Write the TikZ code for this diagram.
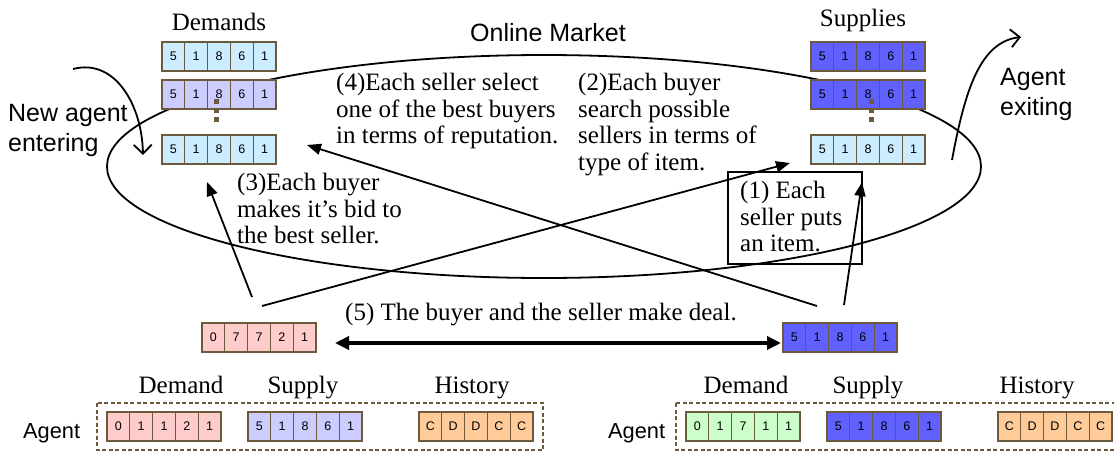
\documentclass[tikz,border=0pt]{standalone}
\usepackage{fontspec}
\setmainfont{Liberation Serif}
\newfontfamily\sansf{Liberation Sans}
\usetikzlibrary{arrows.meta}
\definecolor{cellbrd}{HTML}{6B5A3C}
\definecolor{lblue}{HTML}{CCECFF}
\definecolor{lpurp}{HTML}{CCCCFF}
\definecolor{dblue}{HTML}{6060FF}
\definecolor{lpink}{HTML}{FFCCCC}
\definecolor{lgreen}{HTML}{CCFFCC}
\definecolor{lorange}{HTML}{FFCC99}
\newcommand\cellrow[5]{%
  \foreach \v [count=\i] in {#5} {
    \node[cell, fill=#4] (#1-\i) at ({#2+(\i-0.5)*22.8}, {#3+14.5}) {\v};
  }%
}
\tikzset{
  cell/.style={draw=cellbrd, line width=1.2pt, minimum width=22.8pt, minimum height=29pt, inner sep=0pt, font=\sansf\fontsize{12.5}{14}\selectfont},
  serif/.style={inner sep=0pt, align=left, font=\fontsize{25}{26.5}\selectfont},
  sanslab/.style={inner sep=0pt, align=left, font=\sansf\fontsize{25}{30}\selectfont},
  sansagent/.style={inner sep=0pt, font=\sansf\fontsize{21.8}{24}\selectfont},
  conn/.style={line width=1.8pt, -{Triangle[length=14pt,width=11pt]}},
  openarr/.style={line width=1.8pt, -{Straight Barb[length=9pt,width=18pt,line width=1.8pt]}},
  dealarr/.style={line width=3.5pt, {Triangle[length=14pt,width=13pt]}-{Triangle[length=14pt,width=13pt]}},
  agentframe/.style={draw=cellbrd, line width=1.5pt, dash pattern=on 4pt off 2.5pt},
}
\begin{document}
\begin{tikzpicture}[x=1pt,y=-1pt]
\useasboundingbox (0,0) rectangle (1114,453);
% market ellipse
\draw[line width=1.8pt] (544,166.5) ellipse [x radius=437pt, y radius=111.5pt];
\node[sanslab, anchor=base] (market) at (548,41) {Online Market};
% demands / supplies
\node[serif, anchor=base] (demlab) at (219,30) {Demands};
\node[serif, anchor=base] (suplab) at (863,26) {Supplies};
\cellrow{dA}{162}{42}{lblue}{5,1,8,6,1}
\cellrow{dB}{162}{80}{lpurp}{5,1,8,6,1}
\cellrow{dC}{162}{135}{lblue}{5,1,8,6,1}
\cellrow{sA}{811}{42}{dblue}{5,1,8,6,1}
\cellrow{sB}{811}{80}{dblue}{5,1,8,6,1}
\cellrow{sC}{811}{135}{lblue}{5,1,8,6,1}
\draw[cellbrd, line width=5pt, dash pattern=on 4.5pt off 4.5pt] (216,99) -- (216,124);
\draw[cellbrd, line width=5pt, dash pattern=on 4.5pt off 4.5pt] (871,99) -- (871,124);
% texts
\node[serif, anchor=north west] (t4) at (336,73) {(4)Each seller select\\one of the best buyers\\in terms of reputation.};
\node[serif, anchor=north west] (t2) at (578,73) {(2)Each buyer\\search possible\\sellers in terms of\\type of item.};
\node[serif, anchor=north west] (t3) at (237,173) {(3)Each buyer\\makes it’s bid to\\the best seller.};
\draw[line width=1.2pt] (728,172) rectangle (862,264);
\node[serif, anchor=north west] (t1) at (740,181) {(1) Each\\seller puts\\an item.};
\node[serif, anchor=base west] (t5) at (345,320.5) {(5) The buyer and the seller make deal.};
\node[sanslab, anchor=north west] (enter) at (8,104) {New agent\\entering};
\node[sanslab, anchor=north west] (exit) at (1000,68) {Agent\\exiting};
% buyer / seller
\cellrow{buy}{202}{323}{lpink}{0,7,7,2,1}
\cellrow{sel}{783}{323}{dblue}{5,1,8,6,1}
% agents
\draw[agentframe] (97,403) rectangle (543,450);
\draw[agentframe] (676,403) rectangle (1125,450);
\node[sansagent, anchor=base west] (agL) at (23,438) {Agent};
\node[sansagent, anchor=base west] (agR) at (608,438) {Agent};
\node[serif, anchor=base] at (181,393) {Demand};
\node[serif, anchor=base] at (303,393) {Supply};
\node[serif, anchor=base] at (472,393) {History};
\node[serif, anchor=base] at (746,393) {Demand};
\node[serif, anchor=base] at (868,393) {Supply};
\node[serif, anchor=base] at (1037,393) {History};
\cellrow{aLd}{107}{412}{lpink}{0,1,1,2,1}
\cellrow{aLs}{248}{412}{lpurp}{5,1,8,6,1}
\cellrow{aLh}{419}{412}{lorange}{C,D,D,C,C}
\cellrow{aRd}{686}{412}{lgreen}{0,1,7,1,1}
\cellrow{aRs}{827}{412}{dblue}{5,1,8,6,1}
\cellrow{aRh}{998}{412}{lorange}{C,D,D,C,C}
% connector ends
\coordinate (b3s) at (252,297);
\coordinate (b3e) at (207,182);
\coordinate (b2s) at (262,306);
\coordinate (b2e) at (790,163);
\coordinate (s4s) at (817,306);
\coordinate (s4e) at (307,145);
\coordinate (s1s) at (844,305);
\coordinate (s1e) at (862,182);
\coordinate (d5a) at (335,343);
\coordinate (d5b) at (781,343);
\coordinate (ens) at (73,69);
\coordinate (ene) at (143,155);
\coordinate (exs) at (952,160);
\coordinate (exe) at (1021,37);
\draw[conn] (b3s) -- (b3e);
\draw[conn] (b2s) -- (b2e);
\draw[conn] (s4s) -- (s4e);
\draw[conn] (s1s) -- (s1e);
\draw[dealarr] (d5a) -- (d5b);
\draw[openarr] (ens) .. controls (115,58) and (142,105) .. (ene);
\draw[openarr] (exs) .. controls (965,90) and (980,42) .. (exe);
\end{tikzpicture}
\end{document}
